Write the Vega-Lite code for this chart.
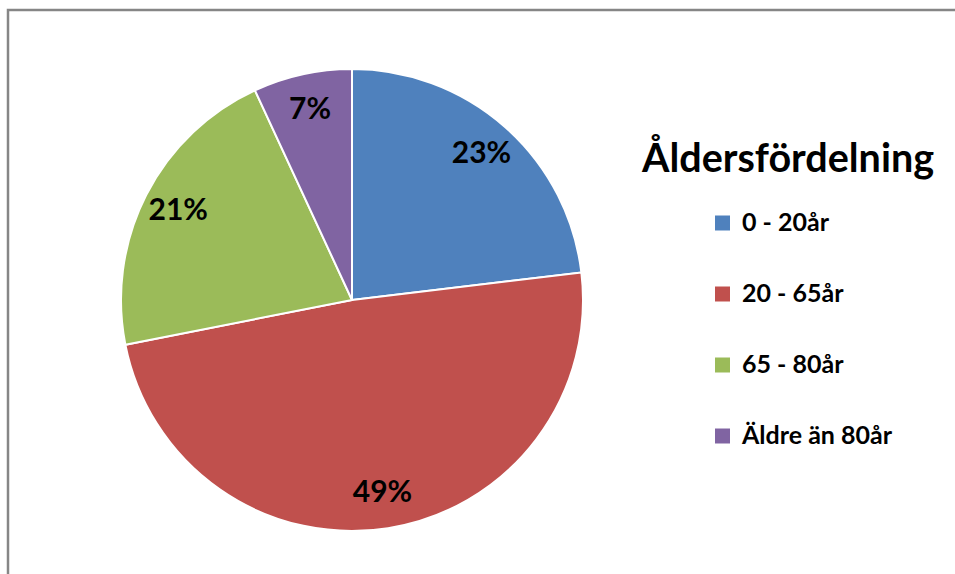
{
  "$schema": "https://vega.github.io/schema/vega-lite/v6.json",
  "autosize": {"type": "fit", "contains": "padding"},
  "width": 955,
  "height": 574,
  "padding": {"left": 8, "top": 10, "right": -3, "bottom": -3},
  "background": "white",
  "config": {
    "view": {"stroke": "#868686", "strokeWidth": 2.5},
    "font": "Lato"
  },
  "data": {
    "values": [
      {"grupp": "0 - 20år", "andel": 0.231},
      {"grupp": "20 - 65år", "andel": 0.488},
      {"grupp": "65 - 80år", "andel": 0.212},
      {"grupp": "Äldre än 80år", "andel": 0.069}
    ]
  },
  "encoding": {
    "theta": {"field": "andel", "type": "quantitative", "stack": true},
    "order": {"field": "grupp", "type": "ordinal", "sort": "ascending"},
    "x": {"value": 344},
    "y": {"value": 290},
    "color": {
      "field": "grupp",
      "type": "nominal",
      "scale": {
        "domain": ["0 - 20år", "20 - 65år", "65 - 80år", "Äldre än 80år"],
        "range": ["#4F81BD", "#C0504D", "#9BBB59", "#8064A2"]
      },
      "legend": {
        "title": "Åldersfördelning",
        "orient": "none",
        "legendX": 634,
        "legendY": 131,
        "padding": 0,
        "titleFont": "Lato",
        "titleFontSize": 39.5,
        "titleFontWeight": "bold",
        "titleColor": "black",
        "titleLimit": 500,
        "titlePadding": 30,
        "symbolType": "square",
        "symbolSize": 225,
        "symbolStrokeWidth": 0,
        "symbolOffset": 68,
        "labelFont": "Lato",
        "labelFontSize": 25,
        "labelFontWeight": "bold",
        "labelColor": "black",
        "labelLimit": 300,
        "labelOffset": 7,
        "rowPadding": 45
      }
    }
  },
  "layer": [
    {
      "mark": {"type": "arc", "outerRadius": 231, "stroke": "white", "strokeWidth": 2}
    },
    {
      "mark": {"type": "text", "radius": 195, "font": "Lato", "fontSize": 30, "fontWeight": "bold"},
      "encoding": {
        "text": {"field": "andel", "type": "quantitative", "format": ".0%"},
        "color": {"value": "black"},
        "detail": {"field": "grupp", "type": "nominal"}
      }
    }
  ]
}
